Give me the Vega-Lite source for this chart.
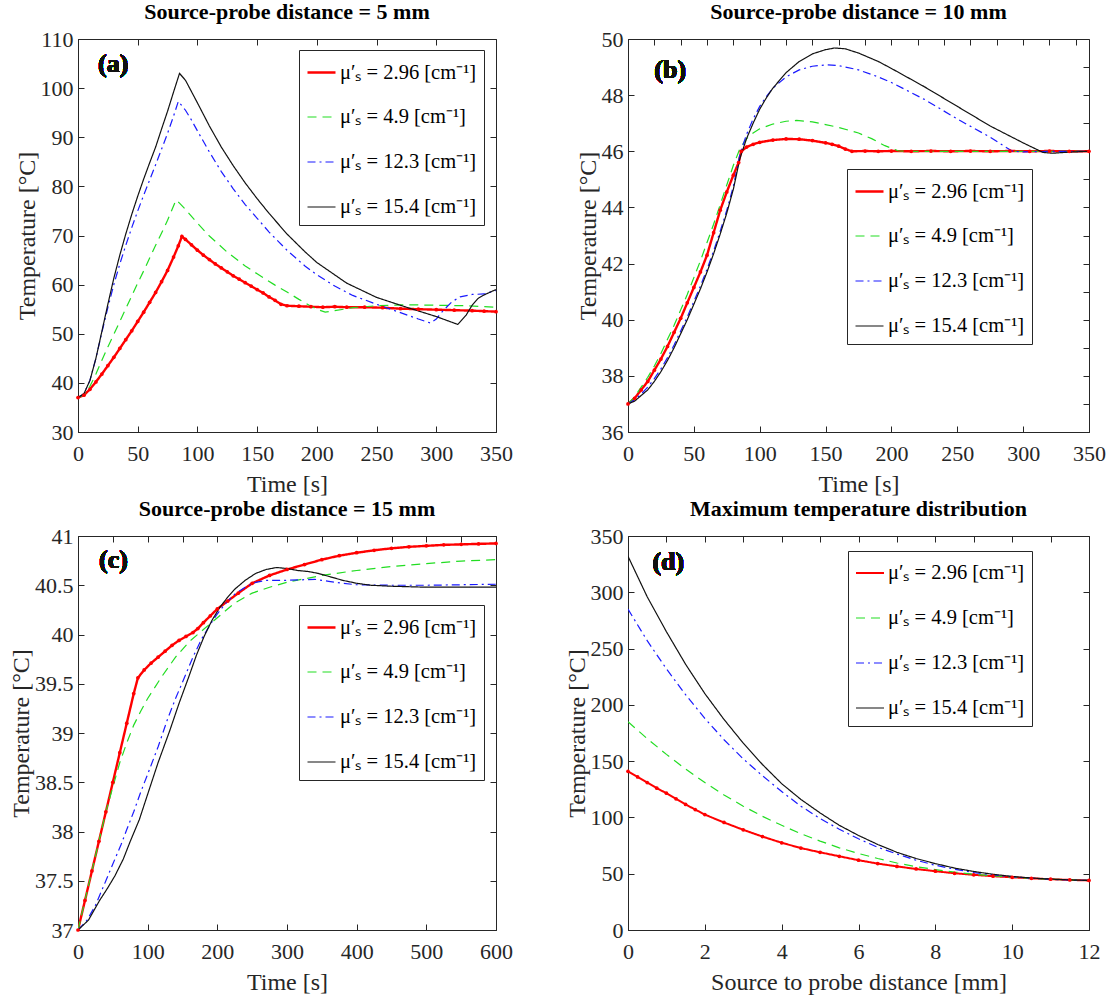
{
  "$schema": "https://vega.github.io/schema/vega-lite/v6.json",
  "background": "white",
  "padding": {"left": 9, "top": 0, "right": 2, "bottom": 0},
  "spacing": 0,
  "columns": 1,
  "align": "none",
  "resolve": {"scale": {"color": "independent", "strokeDash": "independent", "strokeWidth": "independent"}},
  "datasets": {
    "a": [
      {"s":"2.96","t":0,"T":37},{"s":"2.96","t":5,"T":37.5},{"s":"2.96","t":10,"T":38.7},{"s":"2.96","t":15,"T":40.2},{"s":"2.96","t":20,"T":41.8},{"s":"2.96","t":25,"T":43.5},{"s":"2.96","t":30,"T":45.2},{"s":"2.96","t":35,"T":47},{"s":"2.96","t":40,"T":48.8},{"s":"2.96","t":45,"T":50.6},{"s":"2.96","t":50,"T":52.5},{"s":"2.96","t":55,"T":54.4},{"s":"2.96","t":60,"T":56.4},{"s":"2.96","t":65,"T":58.4},{"s":"2.96","t":70,"T":60.6},{"s":"2.96","t":75,"T":62.9},{"s":"2.96","t":80,"T":65.6},{"s":"2.96","t":84,"T":67.9},{"s":"2.96","t":87,"T":69.8},{"s":"2.96","t":90,"T":69.2},{"s":"2.96","t":95,"T":68.1},{"s":"2.96","t":100,"T":67},{"s":"2.96","t":105,"T":66},{"s":"2.96","t":110,"T":65.1},{"s":"2.96","t":115,"T":64.2},{"s":"2.96","t":120,"T":63.4},{"s":"2.96","t":125,"T":62.6},{"s":"2.96","t":130,"T":61.8},{"s":"2.96","t":135,"T":61.1},{"s":"2.96","t":140,"T":60.4},{"s":"2.96","t":145,"T":59.7},{"s":"2.96","t":150,"T":59},{"s":"2.96","t":155,"T":58.3},{"s":"2.96","t":160,"T":57.5},{"s":"2.96","t":165,"T":56.8},{"s":"2.96","t":170,"T":56},{"s":"2.96","t":175,"T":55.7},{"s":"2.96","t":185,"T":55.6},{"s":"2.96","t":195,"T":55.5},{"s":"2.96","t":205,"T":55.4},{"s":"2.96","t":215,"T":55.5},{"s":"2.96","t":225,"T":55.4},{"s":"2.96","t":240,"T":55.4},{"s":"2.96","t":255,"T":55.3},{"s":"2.96","t":270,"T":55.1},{"s":"2.96","t":285,"T":55},{"s":"2.96","t":300,"T":54.9},{"s":"2.96","t":315,"T":54.8},{"s":"2.96","t":330,"T":54.7},{"s":"2.96","t":340,"T":54.6},{"s":"2.96","t":350,"T":54.5},
      {"s":"4.9","t":0,"T":37},{"s":"4.9","t":5,"T":37.6},{"s":"4.9","t":10,"T":39.3},{"s":"4.9","t":15,"T":41.8},{"s":"4.9","t":20,"T":44.6},{"s":"4.9","t":25,"T":47.3},{"s":"4.9","t":30,"T":49.9},{"s":"4.9","t":35,"T":52.5},{"s":"4.9","t":40,"T":55.1},{"s":"4.9","t":45,"T":57.7},{"s":"4.9","t":50,"T":60.3},{"s":"4.9","t":55,"T":62.8},{"s":"4.9","t":60,"T":65.4},{"s":"4.9","t":65,"T":68},{"s":"4.9","t":70,"T":70.5},{"s":"4.9","t":75,"T":73.1},{"s":"4.9","t":82,"T":77.2},{"s":"4.9","t":85,"T":76.6},{"s":"4.9","t":90,"T":75.3},{"s":"4.9","t":100,"T":72.5},{"s":"4.9","t":110,"T":69.9},{"s":"4.9","t":125,"T":66.6},{"s":"4.9","t":140,"T":63.8},{"s":"4.9","t":150,"T":62.2},{"s":"4.9","t":165,"T":59.9},{"s":"4.9","t":175,"T":58.5},{"s":"4.9","t":185,"T":57},{"s":"4.9","t":195,"T":55.6},{"s":"4.9","t":200,"T":55},{"s":"4.9","t":207,"T":54.4},{"s":"4.9","t":215,"T":54.7},{"s":"4.9","t":230,"T":55.3},{"s":"4.9","t":250,"T":55.7},{"s":"4.9","t":275,"T":55.9},{"s":"4.9","t":300,"T":55.8},{"s":"4.9","t":325,"T":55.7},{"s":"4.9","t":350,"T":55.4},
      {"s":"12.3","t":0,"T":37},{"s":"12.3","t":5,"T":37.8},{"s":"12.3","t":10,"T":40.5},{"s":"12.3","t":15,"T":45},{"s":"12.3","t":20,"T":50.3},{"s":"12.3","t":25,"T":55.3},{"s":"12.3","t":30,"T":60},{"s":"12.3","t":35,"T":64.2},{"s":"12.3","t":40,"T":68},{"s":"12.3","t":45,"T":71.6},{"s":"12.3","t":50,"T":75},{"s":"12.3","t":55,"T":78.2},{"s":"12.3","t":60,"T":81.3},{"s":"12.3","t":65,"T":84.4},{"s":"12.3","t":70,"T":87.6},{"s":"12.3","t":75,"T":90.8},{"s":"12.3","t":80,"T":94.3},{"s":"12.3","t":84,"T":97.3},{"s":"12.3","t":90,"T":95.5},{"s":"12.3","t":95,"T":93.5},{"s":"12.3","t":100,"T":91.3},{"s":"12.3","t":110,"T":87},{"s":"12.3","t":120,"T":83},{"s":"12.3","t":130,"T":79.5},{"s":"12.3","t":140,"T":76.3},{"s":"12.3","t":150,"T":73.5},{"s":"12.3","t":160,"T":70.7},{"s":"12.3","t":175,"T":67},{"s":"12.3","t":190,"T":63.8},{"s":"12.3","t":200,"T":62},{"s":"12.3","t":215,"T":59.7},{"s":"12.3","t":230,"T":57.8},{"s":"12.3","t":250,"T":56},{"s":"12.3","t":270,"T":54.3},{"s":"12.3","t":285,"T":53},{"s":"12.3","t":295,"T":52.2},{"s":"12.3","t":300,"T":53},{"s":"12.3","t":305,"T":54.5},{"s":"12.3","t":313,"T":56.5},{"s":"12.3","t":320,"T":57.5},{"s":"12.3","t":330,"T":58},{"s":"12.3","t":340,"T":58.1},{"s":"12.3","t":350,"T":58.8},
      {"s":"15.4","t":0,"T":37},{"s":"15.4","t":5,"T":37.8},{"s":"15.4","t":10,"T":40.5},{"s":"15.4","t":15,"T":45},{"s":"15.4","t":20,"T":50.5},{"s":"15.4","t":25,"T":56},{"s":"15.4","t":30,"T":61.3},{"s":"15.4","t":35,"T":66},{"s":"15.4","t":40,"T":70.3},{"s":"15.4","t":45,"T":74.3},{"s":"15.4","t":50,"T":78},{"s":"15.4","t":55,"T":81.5},{"s":"15.4","t":60,"T":84.8},{"s":"15.4","t":65,"T":88},{"s":"15.4","t":70,"T":91.7},{"s":"15.4","t":75,"T":95.3},{"s":"15.4","t":80,"T":99.2},{"s":"15.4","t":85,"T":103},{"s":"15.4","t":90,"T":101.6},{"s":"15.4","t":95,"T":99.3},{"s":"15.4","t":100,"T":97},{"s":"15.4","t":110,"T":92.3},{"s":"15.4","t":120,"T":88},{"s":"15.4","t":130,"T":84.2},{"s":"15.4","t":140,"T":80.7},{"s":"15.4","t":150,"T":77.5},{"s":"15.4","t":160,"T":74.5},{"s":"15.4","t":175,"T":70.3},{"s":"15.4","t":190,"T":66.7},{"s":"15.4","t":200,"T":64.5},{"s":"15.4","t":225,"T":60.3},{"s":"15.4","t":250,"T":57.4},{"s":"15.4","t":275,"T":55.4},{"s":"15.4","t":300,"T":53.5},{"s":"15.4","t":318,"T":51.9},{"s":"15.4","t":325,"T":53.8},{"s":"15.4","t":330,"T":55.8},{"s":"15.4","t":335,"T":57.2},{"s":"15.4","t":340,"T":57.9},{"s":"15.4","t":350,"T":59}
    ],
    "b": [
      {"s":"2.96","t":0,"T":37},{"s":"2.96","t":5,"T":37.2},{"s":"2.96","t":10,"T":37.5},{"s":"2.96","t":15,"T":37.8},{"s":"2.96","t":20,"T":38.2},{"s":"2.96","t":25,"T":38.6},{"s":"2.96","t":30,"T":39.05},{"s":"2.96","t":35,"T":39.55},{"s":"2.96","t":40,"T":40.05},{"s":"2.96","t":45,"T":40.6},{"s":"2.96","t":50,"T":41.15},{"s":"2.96","t":55,"T":41.7},{"s":"2.96","t":60,"T":42.3},{"s":"2.96","t":65,"T":43.1},{"s":"2.96","t":70,"T":43.9},{"s":"2.96","t":75,"T":44.55},{"s":"2.96","t":80,"T":45.15},{"s":"2.96","t":84,"T":45.6},{"s":"2.96","t":86,"T":46},{"s":"2.96","t":90,"T":46.15},{"s":"2.96","t":95,"T":46.25},{"s":"2.96","t":100,"T":46.32},{"s":"2.96","t":110,"T":46.4},{"s":"2.96","t":120,"T":46.44},{"s":"2.96","t":130,"T":46.43},{"s":"2.96","t":140,"T":46.38},{"s":"2.96","t":150,"T":46.3},{"s":"2.96","t":155,"T":46.25},{"s":"2.96","t":160,"T":46.18},{"s":"2.96","t":165,"T":46.08},{"s":"2.96","t":170,"T":46},{"s":"2.96","t":180,"T":46.01},{"s":"2.96","t":190,"T":46},{"s":"2.96","t":200,"T":46.01},{"s":"2.96","t":215,"T":46},{"s":"2.96","t":230,"T":46.01},{"s":"2.96","t":245,"T":46},{"s":"2.96","t":260,"T":46.01},{"s":"2.96","t":275,"T":46},{"s":"2.96","t":290,"T":46.01},{"s":"2.96","t":305,"T":46},{"s":"2.96","t":320,"T":46.01},{"s":"2.96","t":335,"T":46},{"s":"2.96","t":350,"T":46},
      {"s":"4.9","t":0,"T":37},{"s":"4.9","t":5,"T":37.25},{"s":"4.9","t":10,"T":37.6},{"s":"4.9","t":15,"T":37.95},{"s":"4.9","t":20,"T":38.35},{"s":"4.9","t":25,"T":38.8},{"s":"4.9","t":30,"T":39.3},{"s":"4.9","t":35,"T":39.8},{"s":"4.9","t":40,"T":40.35},{"s":"4.9","t":45,"T":40.9},{"s":"4.9","t":50,"T":41.5},{"s":"4.9","t":55,"T":42.1},{"s":"4.9","t":60,"T":42.75},{"s":"4.9","t":65,"T":43.4},{"s":"4.9","t":70,"T":44.1},{"s":"4.9","t":75,"T":44.8},{"s":"4.9","t":80,"T":45.5},{"s":"4.9","t":85,"T":46.1},{"s":"4.9","t":90,"T":46.45},{"s":"4.9","t":95,"T":46.65},{"s":"4.9","t":100,"T":46.8},{"s":"4.9","t":110,"T":46.97},{"s":"4.9","t":120,"T":47.07},{"s":"4.9","t":128,"T":47.1},{"s":"4.9","t":140,"T":47.05},{"s":"4.9","t":150,"T":46.95},{"s":"4.9","t":160,"T":46.85},{"s":"4.9","t":175,"T":46.65},{"s":"4.9","t":185,"T":46.45},{"s":"4.9","t":195,"T":46.2},{"s":"4.9","t":205,"T":46.02},{"s":"4.9","t":210,"T":46},{"s":"4.9","t":250,"T":46},{"s":"4.9","t":300,"T":46},{"s":"4.9","t":350,"T":46},
      {"s":"12.3","t":0,"T":37},{"s":"12.3","t":5,"T":37.15},{"s":"12.3","t":10,"T":37.35},{"s":"12.3","t":15,"T":37.6},{"s":"12.3","t":20,"T":37.9},{"s":"12.3","t":25,"T":38.25},{"s":"12.3","t":30,"T":38.65},{"s":"12.3","t":35,"T":39.1},{"s":"12.3","t":40,"T":39.6},{"s":"12.3","t":45,"T":40.1},{"s":"12.3","t":50,"T":40.65},{"s":"12.3","t":55,"T":41.2},{"s":"12.3","t":60,"T":41.8},{"s":"12.3","t":65,"T":42.45},{"s":"12.3","t":70,"T":43.15},{"s":"12.3","t":75,"T":43.9},{"s":"12.3","t":80,"T":44.75},{"s":"12.3","t":85,"T":45.9},{"s":"12.3","t":90,"T":46.6},{"s":"12.3","t":95,"T":47.15},{"s":"12.3","t":100,"T":47.6},{"s":"12.3","t":105,"T":47.95},{"s":"12.3","t":110,"T":48.25},{"s":"12.3","t":120,"T":48.65},{"s":"12.3","t":130,"T":48.9},{"s":"12.3","t":140,"T":49.03},{"s":"12.3","t":151,"T":49.08},{"s":"12.3","t":160,"T":49.05},{"s":"12.3","t":175,"T":48.9},{"s":"12.3","t":190,"T":48.65},{"s":"12.3","t":200,"T":48.45},{"s":"12.3","t":225,"T":47.85},{"s":"12.3","t":250,"T":47.15},{"s":"12.3","t":275,"T":46.5},{"s":"12.3","t":285,"T":46.2},{"s":"12.3","t":292,"T":46},{"s":"12.3","t":300,"T":45.98},{"s":"12.3","t":325,"T":46},{"s":"12.3","t":350,"T":46},
      {"s":"15.4","t":0,"T":37},{"s":"15.4","t":5,"T":37.1},{"s":"15.4","t":10,"T":37.3},{"s":"15.4","t":15,"T":37.5},{"s":"15.4","t":20,"T":37.8},{"s":"15.4","t":25,"T":38.15},{"s":"15.4","t":30,"T":38.55},{"s":"15.4","t":35,"T":39},{"s":"15.4","t":40,"T":39.5},{"s":"15.4","t":45,"T":40},{"s":"15.4","t":50,"T":40.55},{"s":"15.4","t":55,"T":41.1},{"s":"15.4","t":60,"T":41.7},{"s":"15.4","t":65,"T":42.35},{"s":"15.4","t":70,"T":43.05},{"s":"15.4","t":75,"T":43.8},{"s":"15.4","t":80,"T":44.65},{"s":"15.4","t":85,"T":45.75},{"s":"15.4","t":90,"T":46.45},{"s":"15.4","t":95,"T":47},{"s":"15.4","t":100,"T":47.5},{"s":"15.4","t":105,"T":47.9},{"s":"15.4","t":110,"T":48.25},{"s":"15.4","t":120,"T":48.8},{"s":"15.4","t":130,"T":49.2},{"s":"15.4","t":140,"T":49.47},{"s":"15.4","t":150,"T":49.62},{"s":"15.4","t":157,"T":49.68},{"s":"15.4","t":165,"T":49.65},{"s":"15.4","t":175,"T":49.5},{"s":"15.4","t":190,"T":49.2},{"s":"15.4","t":200,"T":48.95},{"s":"15.4","t":225,"T":48.3},{"s":"15.4","t":250,"T":47.6},{"s":"15.4","t":275,"T":46.9},{"s":"15.4","t":300,"T":46.3},{"s":"15.4","t":315,"T":45.96},{"s":"15.4","t":322,"T":45.93},{"s":"15.4","t":335,"T":45.97},{"s":"15.4","t":350,"T":46}
    ],
    "c": [
      {"s":"2.96","t":0,"T":37},{"s":"2.96","t":10,"T":37.3},{"s":"2.96","t":20,"T":37.6},{"s":"2.96","t":30,"T":37.9},{"s":"2.96","t":40,"T":38.2},{"s":"2.96","t":50,"T":38.5},{"s":"2.96","t":60,"T":38.8},{"s":"2.96","t":70,"T":39.1},{"s":"2.96","t":80,"T":39.4},{"s":"2.96","t":86,"T":39.56},{"s":"2.96","t":95,"T":39.64},{"s":"2.96","t":105,"T":39.71},{"s":"2.96","t":115,"T":39.77},{"s":"2.96","t":125,"T":39.83},{"s":"2.96","t":135,"T":39.89},{"s":"2.96","t":145,"T":39.94},{"s":"2.96","t":155,"T":39.98},{"s":"2.96","t":165,"T":40.02},{"s":"2.96","t":172,"T":40.06},{"s":"2.96","t":180,"T":40.12},{"s":"2.96","t":190,"T":40.19},{"s":"2.96","t":200,"T":40.26},{"s":"2.96","t":215,"T":40.34},{"s":"2.96","t":230,"T":40.42},{"s":"2.96","t":250,"T":40.52},{"s":"2.96","t":275,"T":40.6},{"s":"2.96","t":300,"T":40.66},{"s":"2.96","t":325,"T":40.71},{"s":"2.96","t":350,"T":40.76},{"s":"2.96","t":375,"T":40.8},{"s":"2.96","t":400,"T":40.83},{"s":"2.96","t":425,"T":40.855},{"s":"2.96","t":450,"T":40.875},{"s":"2.96","t":475,"T":40.89},{"s":"2.96","t":500,"T":40.9},{"s":"2.96","t":525,"T":40.91},{"s":"2.96","t":550,"T":40.915},{"s":"2.96","t":575,"T":40.92},{"s":"2.96","t":600,"T":40.925},
      {"s":"4.9","t":0,"T":37},{"s":"4.9","t":10,"T":37.3},{"s":"4.9","t":20,"T":37.6},{"s":"4.9","t":30,"T":37.9},{"s":"4.9","t":40,"T":38.2},{"s":"4.9","t":50,"T":38.45},{"s":"4.9","t":60,"T":38.7},{"s":"4.9","t":70,"T":38.9},{"s":"4.9","t":80,"T":39.08},{"s":"4.9","t":90,"T":39.22},{"s":"4.9","t":100,"T":39.35},{"s":"4.9","t":120,"T":39.57},{"s":"4.9","t":140,"T":39.77},{"s":"4.9","t":160,"T":39.93},{"s":"4.9","t":180,"T":40.05},{"s":"4.9","t":200,"T":40.17},{"s":"4.9","t":225,"T":40.32},{"s":"4.9","t":250,"T":40.42},{"s":"4.9","t":275,"T":40.48},{"s":"4.9","t":300,"T":40.53},{"s":"4.9","t":350,"T":40.6},{"s":"4.9","t":400,"T":40.65},{"s":"4.9","t":450,"T":40.69},{"s":"4.9","t":500,"T":40.72},{"s":"4.9","t":550,"T":40.745},{"s":"4.9","t":600,"T":40.76},
      {"s":"12.3","t":0,"T":37},{"s":"12.3","t":13,"T":37.1},{"s":"12.3","t":25,"T":37.25},{"s":"12.3","t":40,"T":37.5},{"s":"12.3","t":50,"T":37.67},{"s":"12.3","t":62,"T":37.87},{"s":"12.3","t":70,"T":38.02},{"s":"12.3","t":80,"T":38.2},{"s":"12.3","t":90,"T":38.4},{"s":"12.3","t":101,"T":38.6},{"s":"12.3","t":115,"T":38.86},{"s":"12.3","t":128,"T":39.13},{"s":"12.3","t":140,"T":39.35},{"s":"12.3","t":155,"T":39.6},{"s":"12.3","t":165,"T":39.77},{"s":"12.3","t":177,"T":39.95},{"s":"12.3","t":188,"T":40.08},{"s":"12.3","t":199,"T":40.2},{"s":"12.3","t":210,"T":40.3},{"s":"12.3","t":225,"T":40.41},{"s":"12.3","t":240,"T":40.48},{"s":"12.3","t":255,"T":40.53},{"s":"12.3","t":270,"T":40.55},{"s":"12.3","t":300,"T":40.55},{"s":"12.3","t":340,"T":40.56},{"s":"12.3","t":360,"T":40.54},{"s":"12.3","t":380,"T":40.52},{"s":"12.3","t":400,"T":40.505},{"s":"12.3","t":450,"T":40.5},{"s":"12.3","t":500,"T":40.5},{"s":"12.3","t":550,"T":40.505},{"s":"12.3","t":600,"T":40.51},
      {"s":"15.4","t":0,"T":37},{"s":"15.4","t":15,"T":37.1},{"s":"15.4","t":31,"T":37.3},{"s":"15.4","t":42,"T":37.42},{"s":"15.4","t":53,"T":37.55},{"s":"15.4","t":65,"T":37.72},{"s":"15.4","t":75,"T":37.9},{"s":"15.4","t":88,"T":38.12},{"s":"15.4","t":101,"T":38.4},{"s":"15.4","t":115,"T":38.7},{"s":"15.4","t":132,"T":39.03},{"s":"15.4","t":145,"T":39.3},{"s":"15.4","t":159,"T":39.57},{"s":"15.4","t":170,"T":39.79},{"s":"15.4","t":181,"T":39.98},{"s":"15.4","t":192,"T":40.14},{"s":"15.4","t":203,"T":40.27},{"s":"15.4","t":215,"T":40.38},{"s":"15.4","t":225,"T":40.46},{"s":"15.4","t":240,"T":40.55},{"s":"15.4","t":255,"T":40.62},{"s":"15.4","t":270,"T":40.66},{"s":"15.4","t":285,"T":40.68},{"s":"15.4","t":300,"T":40.67},{"s":"15.4","t":315,"T":40.65},{"s":"15.4","t":330,"T":40.64},{"s":"15.4","t":345,"T":40.62},{"s":"15.4","t":360,"T":40.59},{"s":"15.4","t":380,"T":40.55},{"s":"15.4","t":400,"T":40.52},{"s":"15.4","t":420,"T":40.5},{"s":"15.4","t":450,"T":40.49},{"s":"15.4","t":500,"T":40.48},{"s":"15.4","t":600,"T":40.48}
    ],
    "d": [
      {"s":"2.96","t":0,"T":141},{"s":"2.96","t":0.25,"T":136},{"s":"2.96","t":0.5,"T":131},{"s":"2.96","t":0.75,"T":126},{"s":"2.96","t":1,"T":121.5},{"s":"2.96","t":1.25,"T":116.5},{"s":"2.96","t":1.5,"T":111.5},{"s":"2.96","t":1.75,"T":107},{"s":"2.96","t":2,"T":102.5},{"s":"2.96","t":2.5,"T":95.5},{"s":"2.96","t":3,"T":89},{"s":"2.96","t":3.5,"T":83},{"s":"2.96","t":4,"T":77.5},{"s":"2.96","t":4.5,"T":72.8},{"s":"2.96","t":5,"T":69},{"s":"2.96","t":5.5,"T":65.5},{"s":"2.96","t":6,"T":62},{"s":"2.96","t":6.5,"T":59},{"s":"2.96","t":7,"T":56.5},{"s":"2.96","t":7.5,"T":54.2},{"s":"2.96","t":8,"T":52.2},{"s":"2.96","t":8.5,"T":50.4},{"s":"2.96","t":9,"T":49},{"s":"2.96","t":9.5,"T":47.8},{"s":"2.96","t":10,"T":46.8},{"s":"2.96","t":10.5,"T":45.9},{"s":"2.96","t":11,"T":45.1},{"s":"2.96","t":11.5,"T":44.5},{"s":"2.96","t":12,"T":44},
      {"s":"4.9","t":0,"T":185},{"s":"4.9","t":0.5,"T":170},{"s":"4.9","t":1,"T":156},{"s":"4.9","t":1.5,"T":143},{"s":"4.9","t":2,"T":131},{"s":"4.9","t":2.5,"T":120},{"s":"4.9","t":3,"T":110},{"s":"4.9","t":3.5,"T":101},{"s":"4.9","t":4,"T":93},{"s":"4.9","t":4.5,"T":85.5},{"s":"4.9","t":5,"T":79},{"s":"4.9","t":5.5,"T":73},{"s":"4.9","t":6,"T":68},{"s":"4.9","t":6.5,"T":63.5},{"s":"4.9","t":7,"T":59.5},{"s":"4.9","t":7.5,"T":56.3},{"s":"4.9","t":8,"T":53.7},{"s":"4.9","t":8.5,"T":51.4},{"s":"4.9","t":9,"T":49.6},{"s":"4.9","t":9.5,"T":48.1},{"s":"4.9","t":10,"T":46.9},{"s":"4.9","t":10.5,"T":45.9},{"s":"4.9","t":11,"T":45.1},{"s":"4.9","t":11.5,"T":44.5},{"s":"4.9","t":12,"T":44},
      {"s":"12.3","t":0,"T":285},{"s":"12.3","t":0.5,"T":257},{"s":"12.3","t":1,"T":232},{"s":"12.3","t":1.5,"T":209},{"s":"12.3","t":2,"T":188},{"s":"12.3","t":2.5,"T":169},{"s":"12.3","t":3,"T":152},{"s":"12.3","t":3.5,"T":137},{"s":"12.3","t":4,"T":123},{"s":"12.3","t":4.5,"T":110},{"s":"12.3","t":5,"T":99},{"s":"12.3","t":5.5,"T":89.5},{"s":"12.3","t":6,"T":81},{"s":"12.3","t":6.5,"T":73.5},{"s":"12.3","t":7,"T":67.5},{"s":"12.3","t":7.5,"T":62},{"s":"12.3","t":8,"T":57.5},{"s":"12.3","t":8.5,"T":54},{"s":"12.3","t":9,"T":51},{"s":"12.3","t":9.5,"T":49},{"s":"12.3","t":10,"T":47.2},{"s":"12.3","t":10.5,"T":46},{"s":"12.3","t":11,"T":45},{"s":"12.3","t":11.5,"T":44.4},{"s":"12.3","t":12,"T":44},
      {"s":"15.4","t":0,"T":332},{"s":"15.4","t":0.5,"T":296},{"s":"15.4","t":1,"T":265},{"s":"15.4","t":1.5,"T":236},{"s":"15.4","t":2,"T":210},{"s":"15.4","t":2.5,"T":187},{"s":"15.4","t":3,"T":166},{"s":"15.4","t":3.5,"T":147},{"s":"15.4","t":4,"T":130},{"s":"15.4","t":4.5,"T":116},{"s":"15.4","t":5,"T":104},{"s":"15.4","t":5.5,"T":93},{"s":"15.4","t":6,"T":84},{"s":"15.4","t":6.5,"T":76},{"s":"15.4","t":7,"T":69},{"s":"15.4","t":7.5,"T":63.5},{"s":"15.4","t":8,"T":59},{"s":"15.4","t":8.5,"T":55},{"s":"15.4","t":9,"T":52},{"s":"15.4","t":9.5,"T":49.5},{"s":"15.4","t":10,"T":47.6},{"s":"15.4","t":10.5,"T":46.2},{"s":"15.4","t":11,"T":45.2},{"s":"15.4","t":11.5,"T":44.5},{"s":"15.4","t":12,"T":44}
    ]
  },
  "concat": [
    {
      "spacing": 62,
      "resolve": {"scale": {"color": "independent", "strokeDash": "independent", "strokeWidth": "independent"}},
      "hconcat": [
        {
          "title": {"text": "Source-probe distance = 5 mm", "frame": "group"},
          "width": 418, "height": 393,
          "data": {"name": "a"},
          "layer": [
            {"mark": {"type": "line", "clip": true},
             "encoding": {
               "x": {"field": "t", "type": "quantitative", "scale": {"domain": [0, 350], "nice": false}, "axis": {"orient": "bottom", "title": "Time [s]", "values": [0, 50, 100, 150, 200, 250, 300, 350]}},
               "y": {"field": "T", "type": "quantitative", "scale": {"domain": [30, 110], "nice": false, "zero": false}, "axis": {"orient": "left", "title": "Temperature [°C]", "values": [30, 40, 50, 60, 70, 80, 90, 100, 110]}},
               "color": {"field": "s", "type": "nominal", "scale": {"domain": ["2.96", "4.9", "12.3", "15.4"], "range": ["#ff0000", "#22dd22", "#1a1aff", "#111111"]}, "legend": {"legendX": 221, "legendY": 11, "labelExpr": "'μ′ₛ = ' + datum.label + ' [cm⁻¹]'"}},
               "strokeDash": {"field": "s", "type": "nominal", "scale": {"domain": ["2.96", "4.9", "12.3", "15.4"], "range": [[1, 0], [9, 6], [8, 4, 2, 4], [1, 0]]}, "legend": {"legendX": 221, "legendY": 11, "labelExpr": "'μ′ₛ = ' + datum.label + ' [cm⁻¹]'"}},
               "strokeWidth": {"field": "s", "type": "nominal", "scale": {"type": "ordinal", "domain": ["2.96", "4.9", "12.3", "15.4"], "range": [2.4, 1.2, 1.2, 1.2]}, "legend": {"legendX": 221, "legendY": 11, "labelExpr": "'μ′ₛ = ' + datum.label + ' [cm⁻¹]'"}}
             }},
            {"transform": [{"filter": "datum.s == '2.96'"}],
             "mark": {"type": "point", "filled": true, "size": 14, "color": "#ff0000", "opacity": 1},
             "encoding": {
               "x": {"field": "t", "type": "quantitative", "axis": {"orient": "top", "labels": false, "title": null, "domain": false}},
               "y": {"field": "T", "type": "quantitative", "axis": {"orient": "right", "labels": false, "title": null, "domain": false}}
             }},
            {"mark": {"type": "text", "text": "(a)", "font": "Liberation Serif", "fontSize": 26, "fontWeight": "bold", "color": "#111111"},
             "encoding": {"x": {"datum": 29.5, "type": "quantitative", "axis": null}, "y": {"datum": 105, "type": "quantitative", "axis": null}}}
          ],
          "resolve": {"axis": {"x": "independent", "y": "independent"}}
        },
        {
          "title": {"text": "Source-probe distance = 10 mm", "frame": "group"},
          "width": 461, "height": 393,
          "data": {"name": "b"},
          "layer": [
            {"mark": {"type": "line", "clip": true},
             "encoding": {
               "x": {"field": "t", "type": "quantitative", "scale": {"domain": [0, 350], "nice": false}, "axis": {"orient": "bottom", "title": "Time [s]", "values": [0, 50, 100, 150, 200, 250, 300, 350]}},
               "y": {"field": "T", "type": "quantitative", "scale": {"domain": [36, 50], "nice": false, "zero": false}, "axis": {"orient": "left", "title": "Temperature [°C]", "values": [36, 38, 40, 42, 44, 46, 48, 50]}},
               "color": {"field": "s", "type": "nominal", "scale": {"domain": ["2.96", "4.9", "12.3", "15.4"], "range": ["#ff0000", "#22dd22", "#1a1aff", "#111111"]}, "legend": {"legendX": 219, "legendY": 130, "labelExpr": "'μ′ₛ = ' + datum.label + ' [cm⁻¹]'"}},
               "strokeDash": {"field": "s", "type": "nominal", "scale": {"domain": ["2.96", "4.9", "12.3", "15.4"], "range": [[1, 0], [9, 6], [8, 4, 2, 4], [1, 0]]}, "legend": {"legendX": 219, "legendY": 130, "labelExpr": "'μ′ₛ = ' + datum.label + ' [cm⁻¹]'"}},
               "strokeWidth": {"field": "s", "type": "nominal", "scale": {"type": "ordinal", "domain": ["2.96", "4.9", "12.3", "15.4"], "range": [2.4, 1.2, 1.2, 1.2]}, "legend": {"legendX": 219, "legendY": 130, "labelExpr": "'μ′ₛ = ' + datum.label + ' [cm⁻¹]'"}}
             }},
            {"transform": [{"filter": "datum.s == '2.96'"}],
             "mark": {"type": "point", "filled": true, "size": 14, "color": "#ff0000", "opacity": 1},
             "encoding": {
               "x": {"field": "t", "type": "quantitative", "axis": {"orient": "top", "labels": false, "title": null, "domain": false}},
               "y": {"field": "T", "type": "quantitative", "axis": {"orient": "right", "labels": false, "title": null, "domain": false}}
             }},
            {"mark": {"type": "text", "text": "(b)", "font": "Liberation Serif", "fontSize": 26, "fontWeight": "bold", "color": "#111111"},
             "encoding": {"x": {"datum": 32, "type": "quantitative", "axis": null}, "y": {"datum": 48.9, "type": "quantitative", "axis": null}}}
          ],
          "resolve": {"axis": {"x": "independent", "y": "independent"}}
        }
      ]
    },
    {
      "spacing": 51,
      "resolve": {"scale": {"color": "independent", "strokeDash": "independent", "strokeWidth": "independent"}},
      "hconcat": [
        {
          "title": {"text": "Source-probe distance = 15 mm", "frame": "group"},
          "width": 418, "height": 394,
          "data": {"name": "c"},
          "layer": [
            {"mark": {"type": "line", "clip": true},
             "encoding": {
               "x": {"field": "t", "type": "quantitative", "scale": {"domain": [0, 600], "nice": false}, "axis": {"orient": "bottom", "title": "Time [s]", "values": [0, 100, 200, 300, 400, 500, 600]}},
               "y": {"field": "T", "type": "quantitative", "scale": {"domain": [37, 41], "nice": false, "zero": false}, "axis": {"orient": "left", "title": "Temperature [°C]", "format": "~g", "values": [37, 37.5, 38, 38.5, 39, 39.5, 40, 40.5, 41]}},
               "color": {"field": "s", "type": "nominal", "scale": {"domain": ["2.96", "4.9", "12.3", "15.4"], "range": ["#ff0000", "#22dd22", "#1a1aff", "#111111"]}, "legend": {"legendX": 221, "legendY": 69, "labelExpr": "'μ′ₛ = ' + datum.label + ' [cm⁻¹]'"}},
               "strokeDash": {"field": "s", "type": "nominal", "scale": {"domain": ["2.96", "4.9", "12.3", "15.4"], "range": [[1, 0], [9, 6], [8, 4, 2, 4], [1, 0]]}, "legend": {"legendX": 221, "legendY": 69, "labelExpr": "'μ′ₛ = ' + datum.label + ' [cm⁻¹]'"}},
               "strokeWidth": {"field": "s", "type": "nominal", "scale": {"type": "ordinal", "domain": ["2.96", "4.9", "12.3", "15.4"], "range": [2.4, 1.2, 1.2, 1.2]}, "legend": {"legendX": 221, "legendY": 69, "labelExpr": "'μ′ₛ = ' + datum.label + ' [cm⁻¹]'"}}
             }},
            {"transform": [{"filter": "datum.s == '2.96'"}],
             "mark": {"type": "point", "filled": true, "size": 14, "color": "#ff0000", "opacity": 1},
             "encoding": {
               "x": {"field": "t", "type": "quantitative", "axis": {"orient": "top", "labels": false, "title": null, "domain": false}},
               "y": {"field": "T", "type": "quantitative", "axis": {"orient": "right", "labels": false, "title": null, "domain": false}}
             }},
            {"mark": {"type": "text", "text": "(c)", "font": "Liberation Serif", "fontSize": 26, "fontWeight": "bold", "color": "#111111"},
             "encoding": {"x": {"datum": 51, "type": "quantitative", "axis": null}, "y": {"datum": 40.76, "type": "quantitative", "axis": null}}}
          ],
          "resolve": {"axis": {"x": "independent", "y": "independent"}}
        },
        {
          "title": {"text": "Maximum temperature distribution", "frame": "group"},
          "width": 461, "height": 394,
          "data": {"name": "d"},
          "layer": [
            {"mark": {"type": "line", "clip": true},
             "encoding": {
               "x": {"field": "t", "type": "quantitative", "scale": {"domain": [0, 12], "nice": false}, "axis": {"orient": "bottom", "title": "Source to probe distance [mm]", "values": [0, 2, 4, 6, 8, 10, 12]}},
               "y": {"field": "T", "type": "quantitative", "scale": {"domain": [0, 350], "nice": false}, "axis": {"orient": "left", "title": "Temperature [°C]", "values": [0, 50, 100, 150, 200, 250, 300, 350]}},
               "color": {"field": "s", "type": "nominal", "scale": {"domain": ["2.96", "4.9", "12.3", "15.4"], "range": ["#ff0000", "#22dd22", "#1a1aff", "#111111"]}, "legend": {"legendX": 220, "legendY": 15, "labelExpr": "'μ′ₛ = ' + datum.label + ' [cm⁻¹]'"}},
               "strokeDash": {"field": "s", "type": "nominal", "scale": {"domain": ["2.96", "4.9", "12.3", "15.4"], "range": [[1, 0], [9, 6], [8, 4, 2, 4], [1, 0]]}, "legend": {"legendX": 220, "legendY": 15, "labelExpr": "'μ′ₛ = ' + datum.label + ' [cm⁻¹]'"}},
               "strokeWidth": {"field": "s", "type": "nominal", "scale": {"type": "ordinal", "domain": ["2.96", "4.9", "12.3", "15.4"], "range": [2, 1.2, 1.2, 1.2]}, "legend": {"legendX": 220, "legendY": 15, "labelExpr": "'μ′ₛ = ' + datum.label + ' [cm⁻¹]'"}}
             }},
            {"transform": [{"filter": "datum.s == '2.96'"}],
             "mark": {"type": "point", "filled": true, "size": 14, "color": "#ff0000", "opacity": 1},
             "encoding": {
               "x": {"field": "t", "type": "quantitative", "axis": {"orient": "top", "labels": false, "title": null, "domain": false}},
               "y": {"field": "T", "type": "quantitative", "axis": {"orient": "right", "labels": false, "title": null, "domain": false}}
             }},
            {"mark": {"type": "text", "text": "(d)", "font": "Liberation Serif", "fontSize": 26, "fontWeight": "bold", "color": "#111111"},
             "encoding": {"x": {"datum": 1.05, "type": "quantitative", "axis": null}, "y": {"datum": 327, "type": "quantitative", "axis": null}}}
          ],
          "resolve": {"axis": {"x": "independent", "y": "independent"}}
        }
      ]
    }
  ],
  "config": {
    "font": "Liberation Serif",
    "view": {"stroke": "#262626", "strokeWidth": 1},
    "title": {"font": "Liberation Serif", "fontSize": 22, "fontWeight": "bold", "color": "#000000", "offset": 0},
    "axis": {
      "grid": false,
      "labelFont": "Liberation Serif", "labelFontSize": 22, "labelColor": "#262626",
      "titleFont": "Liberation Serif", "titleFontSize": 24, "titleFontWeight": "normal", "titleColor": "#262626",
      "domainColor": "#262626", "tickColor": "#262626",
      "tickSize": -6,
      "labelFlush": false, "labelOverlap": false
    },
    "axisX": {"labelPadding": 17, "titlePadding": 8},
    "axisY": {"labelPadding": 11, "titlePadding": 1},
    "legend": {
      "orient": "none",
      "title": null,
      "labelFont": "Liberation Serif", "labelFontSize": 20.5, "labelColor": "#000000",
      "symbolType": "stroke", "symbolSize": 784,
      "strokeColor": "#262626", "fillColor": "#ffffff",
      "padding": 7, "rowPadding": 19, "labelOffset": 3, "labelLimit": 400
    }
  }
}
